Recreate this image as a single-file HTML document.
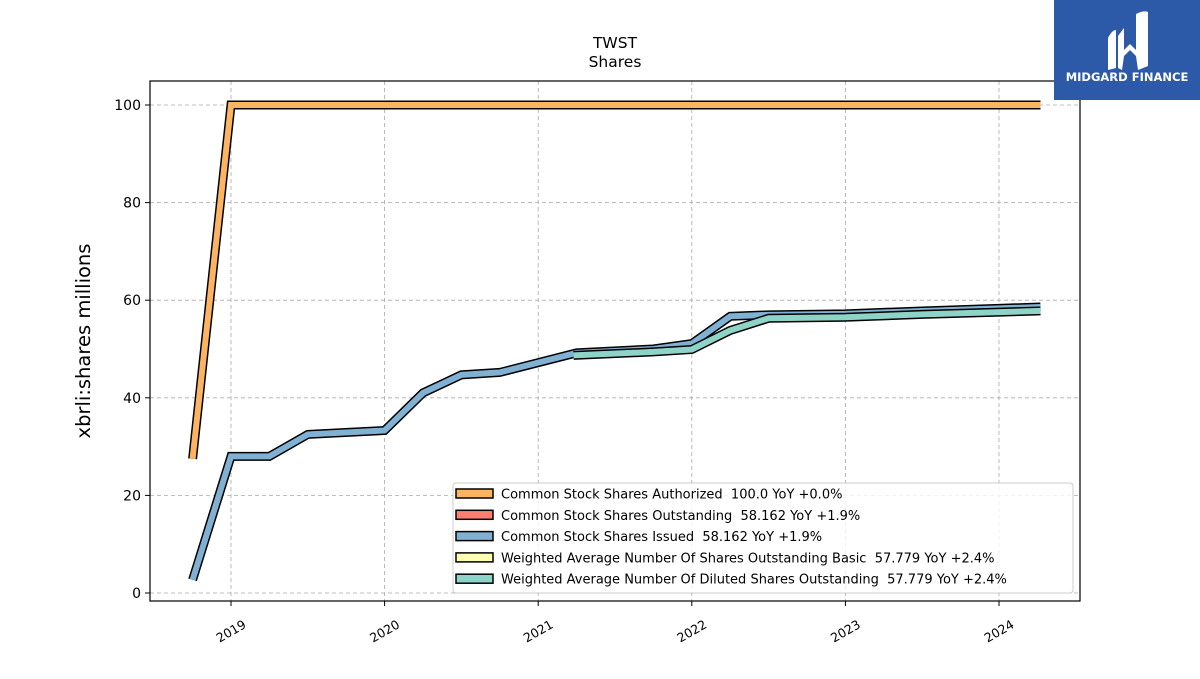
<!DOCTYPE html>
<html><head><meta charset="utf-8"><style>
body{margin:0;background:#fff;font-family:"DejaVu Sans","Liberation Sans",sans-serif;}
svg text{font-family:"DejaVu Sans","Liberation Sans",sans-serif;white-space:pre;}
</style></head><body>
<svg id="chart" width="1200" height="675" xmlns="http://www.w3.org/2000/svg">
<rect width="1200" height="675" fill="#fff"/>
<text x="615" y="48" font-size="15.5" text-anchor="middle">TWST</text>
<text x="615" y="67" font-size="15.5" text-anchor="middle">Shares</text>
<text transform="translate(90,341) rotate(-90)" font-size="19.5" text-anchor="middle">xbrli:shares millions</text>
<g id="grid"></g>
<g id="series"></g>
<rect x="150" y="81" width="930" height="520" fill="none" stroke="#000" stroke-width="1.2"/>
<g id="axes"></g>
<g id="legend"></g>
<g>
<rect x="1054" y="0" width="146" height="100" fill="#2c5aa8"/>
<path d="M1108 38 Q1112 30 1116 30 L1116 68 L1108 70 Z M1124 28 L1124 50 L1130 44 L1136 50 L1136 14 Q1144 10 1148 12 L1148 66 L1138 70 L1136 56 L1130 50 L1124 56 L1122 70 L1118 68 L1118 36 Z" fill="#fff"/>
<text x="1127" y="81" font-size="11.5" font-weight="bold" fill="#fff" text-anchor="middle">MIDGARD FINANCE</text>
</g>
</svg>
<script>
const authDates=[2018.75,2019.0,2019.25,2019.5,2019.75,2020.0,2020.25,2020.5,2020.75,2021.0,2021.25,2021.5,2021.75,2022.0,2022.25,2022.5,2022.75,2023.0,2023.25,2023.5,2023.75,2024.0,2024.27];
const authValues=[27.5,100,100,100,100,100,100,100,100,100,100,100,100,100,100,100,100,100,100,100,100,100,100];
const issuedDates=[2018.75,2019.0,2019.25,2019.5,2020.0,2020.25,2020.5,2020.75,2021.25,2021.75,2022.0,2022.25,2022.5,2023.0,2023.5,2024.27];
const issuedValues=[2.7,28.0,28.0,32.5,33.3,41.0,44.7,45.2,49.2,50.0,51.1,56.7,57.0,57.2,57.8,58.6];
const dilDates=[2021.23,2021.75,2022.0,2022.25,2022.5,2023.0,2023.5,2024.27];
const dilValues=[48.7,49.4,49.9,53.8,56.3,56.5,57.1,57.8];
const yTicks=[0,20,40,60,80,100];
const xTicks=[2019,2020,2021,2022,2023,2024];
const legendLabels=["Common Stock Shares Authorized  100.0 YoY +0.0%","Common Stock Shares Outstanding  58.162 YoY +1.9%","Common Stock Shares Issued  58.162 YoY +1.9%","Weighted Average Number Of Shares Outstanding Basic  57.779 YoY +2.4%","Weighted Average Number Of Diluted Shares Outstanding  57.779 YoY +2.4%"];
const legendColors=["#fdb462","#fb8072","#80b1d3","#ffffb3","#8dd3c7"];

const NS="http://www.w3.org/2000/svg";
const X=d=>231+(d-2019)*153.6;
const Y=v=>593-v*4.88;
function mk(tag,attrs,parent){const e=document.createElementNS(NS,tag);for(const k in attrs)e.setAttribute(k,attrs[k]);parent.appendChild(e);return e;}
const grid=document.getElementById('grid'),axes=document.getElementById('axes'),series=document.getElementById('series'),legend=document.getElementById('legend');
yTicks.forEach(t=>{
  const g=mk('line',{x1:150,x2:1080,y1:Y(t),y2:Y(t),stroke:'#aaa','stroke-dasharray':'4,3','stroke-width':0.8},grid);
  
  
  const tk=mk('line',{x1:145,x2:150,y1:Y(t),y2:Y(t),stroke:'#000'},axes);
  
  
  const tx=mk('text',{x:141,y:Y(t)+5,'font-size':14,'text-anchor':'end'},axes);
  tx.textContent=t;
  
  
});
xTicks.forEach(t=>{
  const g=mk('line',{x1:X(t),x2:X(t),y1:81,y2:601,stroke:'#aaa','stroke-dasharray':'4,3','stroke-width':0.8},grid);
  
  
  const tk=mk('line',{x1:X(t),x2:X(t),y1:601,y2:606,stroke:'#000'},axes);
  
  
  const tx=mk('text',{x:0,y:0,'font-size':12.5,'text-anchor':'end',transform:`translate(${X(t)+16},${627}) rotate(-30)`},axes);
  tx.textContent=t;
  
  
});
function drawSeries(dates,vals,color,name){
  const pts=dates.map((d,i)=>X(d)+','+Y(vals[i])).join(' ');
  const o=mk('polyline',{points:pts,fill:'none',stroke:'#000','stroke-width':9,'stroke-linejoin':'miter'},series);
  
  
  const l=mk('polyline',{points:pts,fill:'none',stroke:color,'stroke-width':6,'stroke-linejoin':'miter'},series);
  
  
}
drawSeries(authDates,authValues,'#fdb462','series-authorized');
drawSeries(issuedDates,issuedValues,'#80b1d3','series-issued');
drawSeries(dilDates,dilValues,'#8dd3c7','series-diluted');
const box=mk('rect',{x:453,y:483,width:620,height:110,rx:3,fill:'#fff','fill-opacity':0.8,stroke:'#ccc'},legend);


legendLabels.forEach((lab,i)=>{
  const y=494+i*21.3;
  const sw=mk('rect',{x:456,y:y-5,width:37,height:9,fill:legendColors[i],stroke:'#000','stroke-width':1.5},legend);
  
  
  const t=mk('text',{x:501,y:y+4.5,'font-size':13},legend);
  t.setAttribute('xml:space','preserve');
  t.textContent=lab;
  
  
});
</script>
</body></html>
